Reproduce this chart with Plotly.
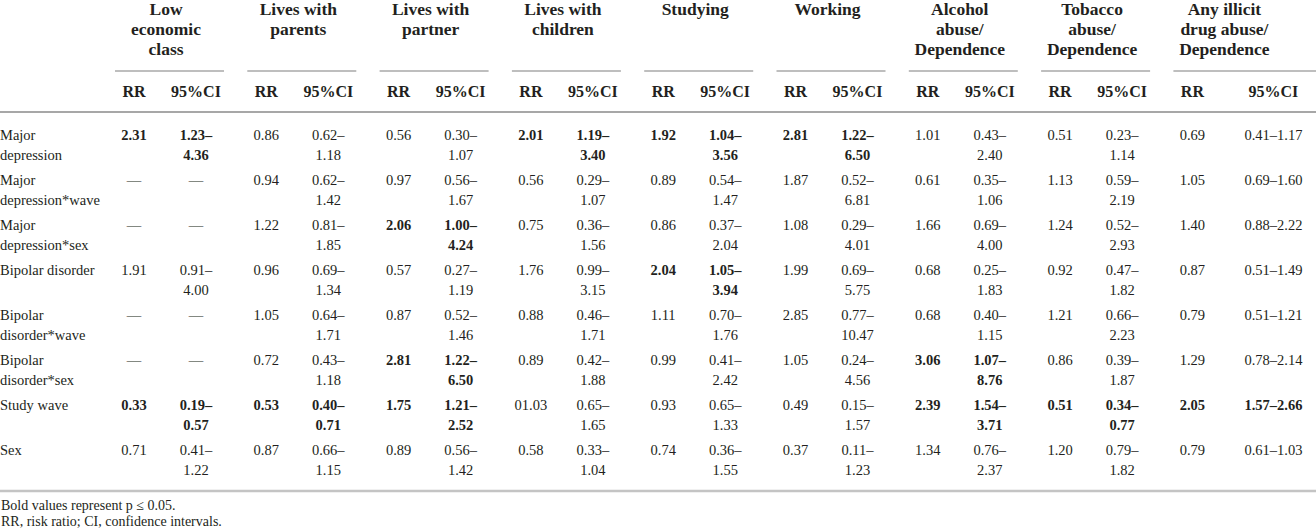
import plotly.graph_objects as go

# ---------------- data ----------------
row_labels = [
    ["Major", "depression"],
    ["Major", "depression*wave"],
    ["Major", "depression*sex"],
    ["Bipolar disorder"],
    ["Bipolar", "disorder*wave"],
    ["Bipolar", "disorder*sex"],
    ["Study wave"],
    ["Sex"],
]

group_names = [
    ["Low", "economic", "class"],
    ["Lives with", "parents"],
    ["Lives with", "partner"],
    ["Lives with", "children"],
    ["Studying"],
    ["Working"],
    ["Alcohol", "abuse/", "Dependence"],
    ["Tobacco", "abuse/", "Dependence"],
    ["Any illicit", "drug abuse/", "Dependence"],
]

rr_low_econ = ["2.31", "—", "—", "1.91", "—", "—", "0.33", "0.71"]
ci_low_econ = ["1.23–4.36", "—", "—", "0.91–4.00", "—", "—", "0.19–0.57", "0.41–1.22"]
bold_low_econ = [0, 6]

rr_parents = ["0.86", "0.94", "1.22", "0.96", "1.05", "0.72", "0.53", "0.87"]
ci_parents = ["0.62–1.18", "0.62–1.42", "0.81–1.85", "0.69–1.34", "0.64–1.71", "0.43–1.18", "0.40–0.71", "0.66–1.15"]
bold_parents = [6]

rr_partner = ["0.56", "0.97", "2.06", "0.57", "0.87", "2.81", "1.75", "0.89"]
ci_partner = ["0.30–1.07", "0.56–1.67", "1.00–4.24", "0.27–1.19", "0.52–1.46", "1.22–6.50", "1.21–2.52", "0.56–1.42"]
bold_partner = [2, 5, 6]

rr_children = ["2.01", "0.56", "0.75", "1.76", "0.88", "0.89", "01.03", "0.58"]
ci_children = ["1.19–3.40", "0.29–1.07", "0.36–1.56", "0.99–3.15", "0.46–1.71", "0.42–1.88", "0.65–1.65", "0.33–1.04"]
bold_children = [0]

rr_studying = ["1.92", "0.89", "0.86", "2.04", "1.11", "0.99", "0.93", "0.74"]
ci_studying = ["1.04–3.56", "0.54–1.47", "0.37–2.04", "1.05–3.94", "0.70–1.76", "0.41–2.42", "0.65–1.33", "0.36–1.55"]
bold_studying = [0, 3]

rr_working = ["2.81", "1.87", "1.08", "1.99", "2.85", "1.05", "0.49", "0.37"]
ci_working = ["1.22–6.50", "0.52–6.81", "0.29–4.01", "0.69–5.75", "0.77–10.47", "0.24–4.56", "0.15–1.57", "0.11–1.23"]
bold_working = [0]

rr_alcohol = ["1.01", "0.61", "1.66", "0.68", "0.68", "3.06", "2.39", "1.34"]
ci_alcohol = ["0.43–2.40", "0.35–1.06", "0.69–4.00", "0.25–1.83", "0.40–1.15", "1.07–8.76", "1.54–3.71", "0.76–2.37"]
bold_alcohol = [5, 6]

rr_tobacco = ["0.51", "1.13", "1.24", "0.92", "1.21", "0.86", "0.51", "1.20"]
ci_tobacco = ["0.23–1.14", "0.59–2.19", "0.52–2.93", "0.47–1.82", "0.66–2.23", "0.39–1.87", "0.34–0.77", "0.79–1.82"]
bold_tobacco = [6]

rr_illicit = ["0.69", "1.05", "1.40", "0.87", "0.79", "1.29", "2.05", "0.79"]
ci_illicit = ["0.41–1.17", "0.69–1.60", "0.88–2.22", "0.51–1.49", "0.51–1.21", "0.78–2.14", "1.57–2.66", "0.61–1.03"]
bold_illicit = [6]

footnotes = ["Bold values represent p ≤ 0.05.", "RR, risk ratio; CI, confidence intervals."]

rr_cols = [rr_low_econ, rr_parents, rr_partner, rr_children, rr_studying,
           rr_working, rr_alcohol, rr_tobacco, rr_illicit]
ci_cols = [ci_low_econ, ci_parents, ci_partner, ci_children, ci_studying,
           ci_working, ci_alcohol, ci_tobacco, ci_illicit]
bold_cols = [bold_low_econ, bold_parents, bold_partner, bold_children, bold_studying,
             bold_working, bold_alcohol, bold_tobacco, bold_illicit]

# ---------------- layout constants ----------------
W, H = 1316, 528
FONT = "Liberation Serif, Times New Roman, serif"
TXT = "#231f20"
G0, GSTEP, GW = 115, 132.3, 109
ROW0, RSTEP, LSTEP = 136, 45, 20
HDR_Y0, HDR_STEP = 10.5, 20
UL_Y, SUB_Y, RULE_Y = 71, 93, 112
BOT_Y = 491

def gstart(g):
    return G0 + GSTEP * g

fig = go.Figure()

def add_text(xs, ys, texts, size, pos="middle center", color=TXT):
    fig.add_trace(go.Scatter(
        x=xs, y=ys, text=texts, mode="text", textposition=pos,
        textfont=dict(family=FONT, size=size, color=color),
        hoverinfo="skip", showlegend=False, cliponaxis=False))

# group headers
hx, hy, ht = [], [], []
for g, lines in enumerate(group_names):
    for k, ln in enumerate(lines):
        hx.append(gstart(g) + 51)
        hy.append(HDR_Y0 + HDR_STEP * k)
        ht.append("<b>" + ln + "</b>")
add_text(hx, hy, ht, 17.5)

# sub headers
sx, sy, st = [], [], []
for g in range(len(group_names)):
    last = g == len(group_names) - 1
    sx += [gstart(g) + 19, gstart(g) + (100 if last else 81)]
    sy += [SUB_Y, SUB_Y]
    st += ["<b>RR</b>", "<b>95%CI</b>"]
add_text(sx, sy, st, 16)

# row labels
lx, ly, lt = [], [], []
for r, lines in enumerate(row_labels):
    for k, ln in enumerate(lines):
        lx.append(0)
        ly.append(ROW0 + RSTEP * r + LSTEP * k)
        lt.append(ln)
add_text(lx, ly, lt, 14.5, pos="middle right")

# body cells
bx, by, bt = [], [], []
for g in range(len(rr_cols)):
    last = g == len(rr_cols) - 1
    for r in range(len(row_labels)):
        b = r in bold_cols[g]
        wrap = (lambda s: "<b>" + s + "</b>") if b else (lambda s: s)
        y = ROW0 + RSTEP * r
        bx.append(gstart(g) + 19); by.append(y); bt.append(wrap(rr_cols[g][r]))
        ci = ci_cols[g][r]
        cx = gstart(g) + (100 if last else 81)
        if "–" in ci and not last:
            lo, hi = ci.split("–")
            bx += [cx, cx]; by += [y, y + LSTEP]
            bt += [wrap(lo + "–"), wrap(hi)]
        else:
            bx.append(cx); by.append(y); bt.append(wrap(ci))
add_text(bx, by, bt, 14.5)

# footnotes
add_text([1, 1], [BOT_Y + 15, BOT_Y + 31], footnotes, 14, pos="middle right")

# lines
shapes = []
for g in range(len(group_names)):
    x1 = W if g == len(group_names) - 1 else gstart(g) + GW
    shapes.append(dict(type="line", xref="x", yref="y", x0=gstart(g), x1=x1,
                       y0=UL_Y, y1=UL_Y, line=dict(color="#a8a8a8", width=1.3)))
shapes.append(dict(type="line", xref="x", yref="y", x0=0, x1=W, y0=RULE_Y, y1=RULE_Y,
                   line=dict(color="#8a8a8a", width=1.5)))
shapes.append(dict(type="line", xref="x", yref="y", x0=0, x1=W, y0=BOT_Y, y1=BOT_Y,
                   line=dict(color="#c4c4c4", width=2.5)))

fig.update_layout(
    width=W, height=H, margin=dict(l=0, r=0, t=0, b=0),
    paper_bgcolor="white", plot_bgcolor="white",
    xaxis=dict(range=[0, W], visible=False, fixedrange=True),
    yaxis=dict(range=[H, 0], visible=False, fixedrange=True),
    shapes=shapes, showlegend=False,
)

fig.write_html(
    "out.html",
    config={"displayModeBar": False},
    post_script="document.body.style.margin='0';document.body.style.overflow='hidden';",
)
